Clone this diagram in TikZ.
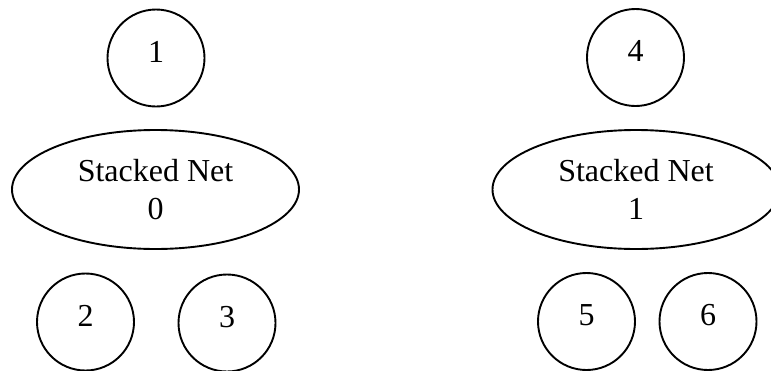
\documentclass[tikz,border=0pt]{standalone}
\usepackage{fontspec}
\setmainfont{Liberation Serif}
\usetikzlibrary{shapes.geometric}
\tikzset{
  netnode/.style={draw, line width=1.9pt, circle, minimum size=97pt, inner sep=0pt, text height=22pt, text depth=14pt},
  stacknode/.style={draw, line width=1.9pt, ellipse, minimum width=287pt, minimum height=119pt, inner sep=0pt, align=center}
}
\begin{document}
\begin{tikzpicture}[x=1pt, y=-1pt, font=\fontsize{32}{38}\selectfont]
\useasboundingbox (0,0) rectangle (771,370);
\node[netnode] (n1) at (156,58) {1};
\node[stacknode] (s0) at (155.5,189.5) {Stacked Net\\0};
\node[netnode] (n2) at (85.5,322) {2};
\node[netnode] (n3) at (227,323) {3};
\node[netnode] (n4) at (635.5,57.5) {4};
\node[stacknode] (s1) at (636,189.5) {Stacked Net\\1};
\node[netnode] (n5) at (586.5,321.5) {5};
\node[netnode] (n6) at (708,321.5) {6};
\end{tikzpicture}
\end{document}
